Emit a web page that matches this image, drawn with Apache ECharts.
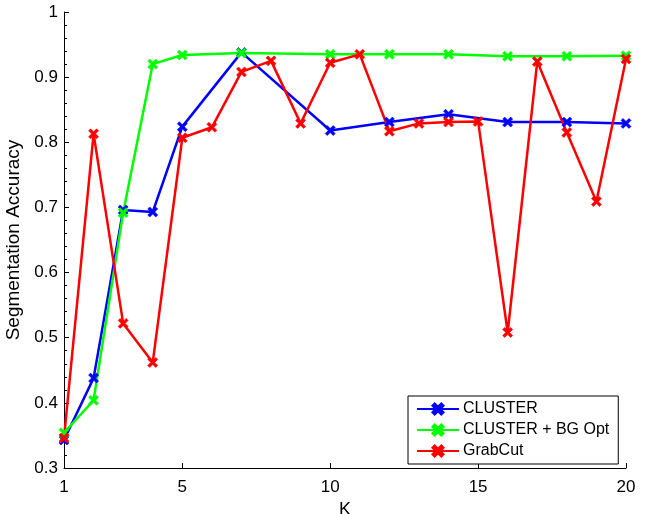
<!DOCTYPE html>
<html>
<head>
<meta charset="utf-8">
<script src="https://cdn.jsdelivr.net/npm/echarts@6/dist/echarts.min.js"></script>
<style>
  html, body { margin: 0; padding: 0; background: #fff; }
  #chart { width: 647px; height: 514px; }
</style>
</head>
<body>
<div id="chart"></div>
<script>
// K values sampled by each method
const clusterK = [1, 2, 3, 4, 5, 7, 10, 12, 14, 16, 18, 20]
const clusterAcc = [0.343, 0.438, 0.696, 0.693, 0.824, 0.938, 0.818, 0.831, 0.843, 0.831, 0.831, 0.829]
const bgOptAcc = [0.354, 0.404, 0.692, 0.920, 0.934, 0.937, 0.935, 0.935, 0.935, 0.932, 0.932, 0.933]
const grabcutK = [1, 2, 3, 4, 5, 6, 7, 8, 9, 10, 11, 12, 13, 14, 15, 16, 17, 18, 19, 20]
const grabcutAcc = [0.346, 0.813, 0.522, 0.462, 0.807, 0.823, 0.908, 0.925, 0.829, 0.922,
  0.935, 0.817, 0.829, 0.831, 0.832, 0.508, 0.924, 0.815, 0.709, 0.928]
const xTicks = [1, 5, 10, 15, 20]

const font = 'Liberation Sans, Arial, Helvetica, sans-serif'
const cross = 'path://M0,2L2,0L5,3L8,0L10,2L7,5L10,8L8,10L5,7L2,10L0,8L3,5Z'

const pairs = (xs, ys) => xs.map((x, i) => [x, ys[i]])

const makeSeries = (name, color, data) => ({
  name,
  type: 'line',
  data,
  symbol: cross,
  symbolSize: 10,
  showSymbol: true,
  lineStyle: { color, width: 2.5 },
  itemStyle: { color, borderColor: color, borderWidth: 0.6 },
  emphasis: { disabled: true },
  animation: false
})

const chart = echarts.init(document.getElementById('chart'))

chart.setOption({
  backgroundColor: '#fff',
  textStyle: { fontFamily: font },
  grid: { left: 64, right: 21, top: 12, bottom: 46, containLabel: false, outerBoundsMode: 'none' },
  legend: {
    orient: 'vertical',
    left: 408,
    top: 396,
    padding: [5, 9, 5, 8],
    itemGap: 5,
    itemWidth: 42,
    itemHeight: 14,
    borderColor: '#000',
    borderWidth: 1,
    backgroundColor: '#fff',
    textStyle: { fontSize: 16, lineHeight: 15, color: '#000', fontFamily: font, padding: [0, 0, 0, -1] },
    data: ['CLUSTER', 'CLUSTER + BG Opt', 'GrabCut']
  },
  xAxis: {
    type: 'value',
    min: 1,
    max: 20,
    name: 'K',
    nameLocation: 'middle',
    nameGap: 25,
    nameTextStyle: { fontSize: 18, color: '#000', fontFamily: font },
    axisLine: { lineStyle: { color: '#000', width: 1 } },
    axisTick: { inside: true, length: 5, customValues: xTicks, lineStyle: { color: '#000' } },
    axisLabel: { customValues: xTicks, fontSize: 17, color: '#000', margin: 11, fontFamily: font },
    splitLine: { show: false }
  },
  yAxis: {
    type: 'value',
    min: 0.3,
    max: 1,
    interval: 0.1,
    name: 'Segmentation Accuracy',
    nameLocation: 'middle',
    nameGap: 39,
    nameTextStyle: { fontSize: 19, color: '#000', fontFamily: font },
    axisLine: { show: true, lineStyle: { color: '#000', width: 1 } },
    axisTick: { inside: true, length: 5, lineStyle: { color: '#000' } },
    minorTick: { show: true, splitNumber: 5, length: 3, lineStyle: { color: '#000' } },
    axisLabel: { fontSize: 17, color: '#000', margin: 6, fontFamily: font },
    splitLine: { show: false }
  },
  series: [
    makeSeries('CLUSTER', '#0000ff', pairs(clusterK, clusterAcc)),
    makeSeries('CLUSTER + BG Opt', '#00ff00', pairs(clusterK, bgOptAcc)),
    makeSeries('GrabCut', '#ff0000', pairs(grabcutK, grabcutAcc))
  ]
})
</script>
</body>
</html>
